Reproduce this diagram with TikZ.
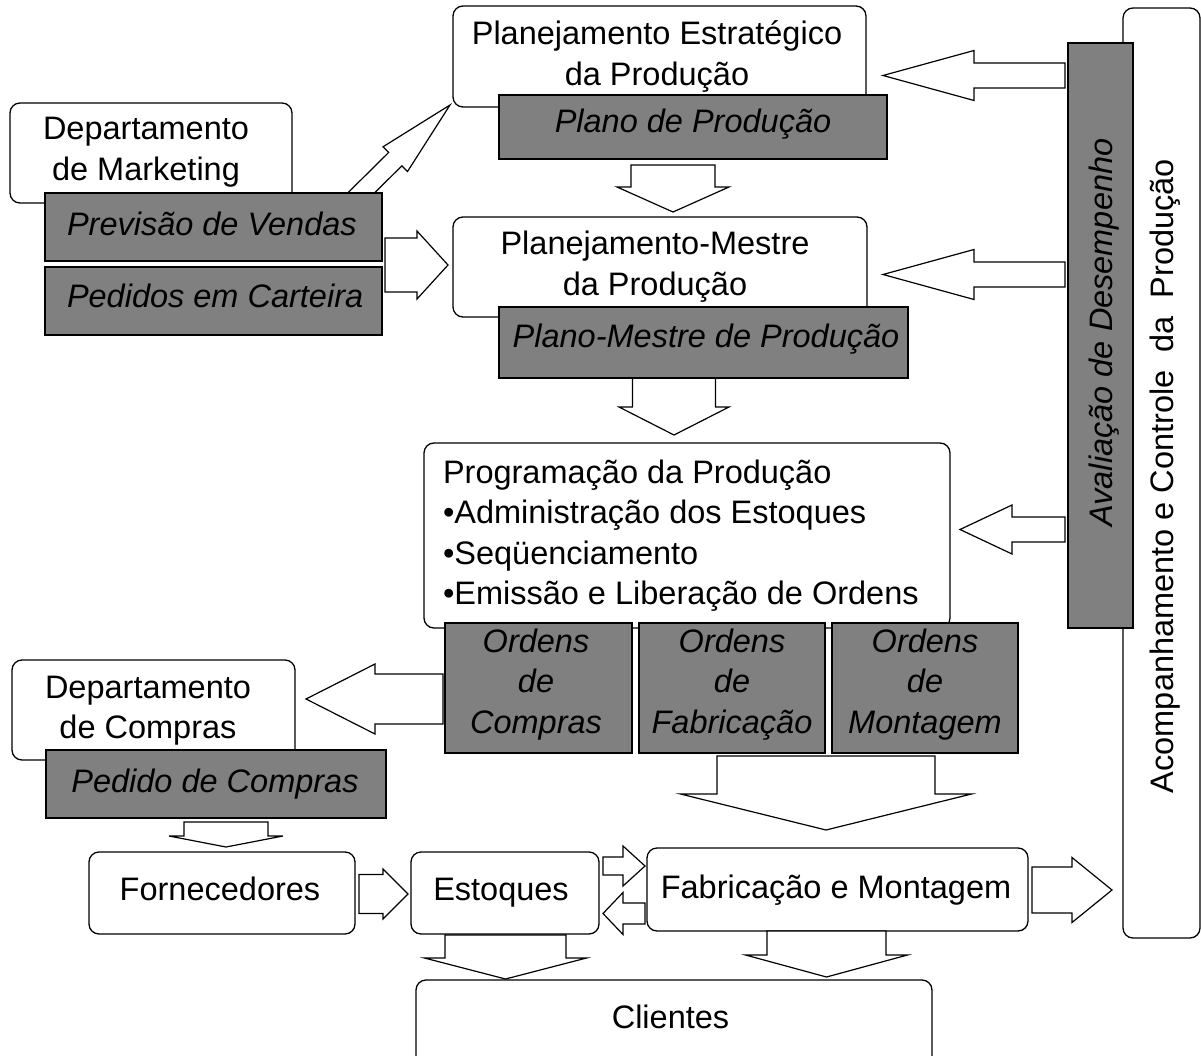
\documentclass[tikz,border=0pt]{standalone}
\usepackage{fontspec}
\setmainfont{Liberation Sans}
\usetikzlibrary{calc}
\definecolor{boxgray}{RGB}{128,128,128}
% #1 start, #2 tip, #3 shaft half width, #4 head half width, #5 head length
\newcommand{\blockarrow}[5]{%
  \coordinate (ba-h) at ($(#2)!#5pt!(#1)$);
  \draw[barrow] ($(#1)!#3pt!90:(#2)$) -- ($(ba-h)!#3pt!90:(#2)$) -- ($(ba-h)!#4pt!90:(#2)$) -- (#2)
     -- ($(ba-h)!#4pt!-90:(#2)$) -- ($(ba-h)!#3pt!-90:(#2)$) -- ($(#1)!#3pt!-90:(#2)$) -- cycle;}
\begin{document}
\begin{tikzpicture}[x=1pt,y=-1pt,
  wbox/.style={draw=black, line width=1.3pt, rounded corners=10pt, fill=white, inner sep=0pt, outer sep=0pt},
  gbox/.style={draw=black, line width=1.8pt, fill=boxgray, inner sep=0pt, outer sep=0pt},
  barrow/.style={draw=black, line width=1.2pt, fill=white, line join=miter},
  lbl/.style={inner sep=0pt, outer sep=0pt, align=center, anchor=north, font=\fontsize{32.5}{40.5}\selectfont},
  ilbl/.style={lbl, font=\fontsize{32.5}{40.5}\selectfont\itshape},
  one/.style={inner sep=0pt, outer sep=0pt, anchor=base, font=\fontsize{32.5}{40.5}\selectfont},
  ione/.style={one, font=\fontsize{32.5}{40.5}\selectfont\itshape}]
\useasboundingbox (0,0) rectangle (1201,1056);
\fill[white] (0,0) rectangle (1201,1056);
\clip (0,0) rectangle (1201,1056);

% white boxes
\node[wbox, minimum width=282, minimum height=100] (mkt) at (151,153) {};
\node[wbox, minimum width=413, minimum height=101] (est) at (659.5,56.5) {};
\node[wbox, minimum width=414, minimum height=100] (mestre) at (660,267) {};
\node[wbox, minimum width=526, minimum height=185] (prog) at (687,535.5) {};
\node[wbox, minimum width=283, minimum height=100] (dcomp) at (153.5,710) {};
\node[wbox, minimum width=266, minimum height=82] (forn) at (222,893) {};
\node[wbox, minimum width=188, minimum height=82] (estoq) at (505,893) {};
\node[wbox, minimum width=381, minimum height=83] (fab) at (837.5,889.5) {};
\node[wbox, minimum width=516, minimum height=100] (cli) at (674,1030) {};
\node[wbox, minimum width=77, minimum height=930] (acomp) at (1161.5,473) {};

% block arrows
\coordinate (a1s) at (673,165);   \coordinate (a1e) at (673,212);
\coordinate (a2s) at (674,378);   \coordinate (a2e) at (674,435);
\coordinate (a3s) at (385,265);   \coordinate (a3e) at (448,265);
\coordinate (adS) at (354,200);   \coordinate (adE) at (450,105);
\coordinate (a4s) at (443,699);   \coordinate (a4e) at (306,699);
\coordinate (a5s) at (226,822);   \coordinate (a5e) at (226,847);
\coordinate (a6s) at (359,894);   \coordinate (a6e) at (408,894);
\coordinate (a7s) at (505.5,935); \coordinate (a7e) at (505.5,979);
\coordinate (a8s) at (603,866);   \coordinate (a8e) at (645,866);
\coordinate (a9s) at (645,913.5); \coordinate (a9e) at (603,913.5);
\coordinate (b1s) at (826,756);   \coordinate (b1e) at (826,830);
\coordinate (b2s) at (826.5,931); \coordinate (b2e) at (826.5,977);
\coordinate (b3s) at (1032,890);  \coordinate (b3e) at (1112,890);
\coordinate (b4s) at (1065,75.5); \coordinate (b4e) at (883,75.5);
\coordinate (b5s) at (1065,274.5);\coordinate (b5e) at (883,274.5);
\coordinate (b6s) at (1065,529.5);\coordinate (b6e) at (960,529.5);
\blockarrow{a1s}{a1e}{42}{56}{25}
\blockarrow{a2s}{a2e}{41.5}{55}{28}
\blockarrow{a3s}{a3e}{27}{34}{31}
\blockarrow{adS}{adE}{9.4}{17.4}{77}
\blockarrow{a4s}{a4e}{25}{35}{69}
\blockarrow{a5s}{a5e}{42}{57}{11}
\blockarrow{a6s}{a6e}{19.5}{25}{25}
\blockarrow{a7s}{a7e}{60.5}{81}{21}
\blockarrow{a8s}{a8e}{9}{20}{22}
\blockarrow{a9s}{a9e}{10.5}{21}{20}
\blockarrow{b1s}{b1e}{109}{145.5}{36}
\blockarrow{b2s}{b2e}{59.5}{81}{22}
\blockarrow{b3s}{b3e}{23}{32.5}{40}
\blockarrow{b4s}{b4e}{12.5}{25}{91}
\blockarrow{b5s}{b5e}{12.5}{25}{91}
\blockarrow{b6s}{b6e}{12.5}{24.5}{52}

% grey boxes
\node[gbox, minimum width=337, minimum height=68] (prev) at (213.5,227) {};
\node[gbox, minimum width=337, minimum height=68] (ped) at (213.5,301) {};
\node[gbox, minimum width=388, minimum height=64] (plano) at (693,127) {};
\node[gbox, minimum width=409, minimum height=71] (pmestre) at (703.5,342.5) {};
\node[gbox, minimum width=187, minimum height=130] (oc) at (538.5,688) {};
\node[gbox, minimum width=186, minimum height=130] (of) at (732,688) {};
\node[gbox, minimum width=186, minimum height=130] (om) at (925,688) {};
\node[gbox, minimum width=340, minimum height=68] (pcomp) at (216,784) {};
\node[gbox, minimum width=65, minimum height=585] (aval) at (1100.5,335.5) {};

% texts
\node[lbl] (tmkt) at (146,111.65) {\strut Departamento\\\strut de Marketing};
\node[ione, anchor=base west] (tprev) at (67,236) {Previsão de Vendas};
\node[ione, anchor=base west] (tped) at (67,308) {Pedidos em Carteira};
\node[lbl] (test) at (657,16.65) {\strut Planejamento Estratégico\\\strut da Produção};
\node[ione] (tplano) at (693,133) {Plano de Produção};
\node[lbl] (tmestre) at (655,226.65) {\strut Planejamento-Mestre\\\strut da Produção};
\node[ione] (tpmestre) at (706,347) {Plano-Mestre de Produção};
\node[lbl, align=left, anchor=north west] (tprog) at (443,454.65)
  {\strut Programação da Produção\\\strut •Administração dos Estoques\\\strut •Seqüenciamento\\\strut •Emissão e Liberação de Ordens};
\node[ilbl] (toc) at (536,623.65) {\strut Ordens\\\strut de\\\strut Compras};
\node[ilbl] (tof) at (732,623.65) {\strut Ordens\\\strut de\\\strut Fabricação};
\node[ilbl] (tom) at (925,623.65) {\strut Ordens\\\strut de\\\strut Montagem};
\node[lbl] (tdcomp) at (148,669.65) {\strut Departamento\\\strut de Compras};
\node[ione] (tpcomp) at (215,792) {Pedido de Compras};
\node[one] (tforn) at (220,900) {Fornecedores};
\node[one] (testoq) at (501,900) {Estoques};
\node[one] (tfab) at (836,898) {Fabricação e Montagem};
\node[one] (tcli) at (670.5,1028) {Clientes};
\node[ione, rotate=90] (taval) at (1112,332.5) {Avaliação de Desempenho};
\node[one, rotate=90] (tacomp) at (1173,476) {Acompanhamento e Controle\ \ da\ \ Produção};
\end{tikzpicture}
\end{document}
